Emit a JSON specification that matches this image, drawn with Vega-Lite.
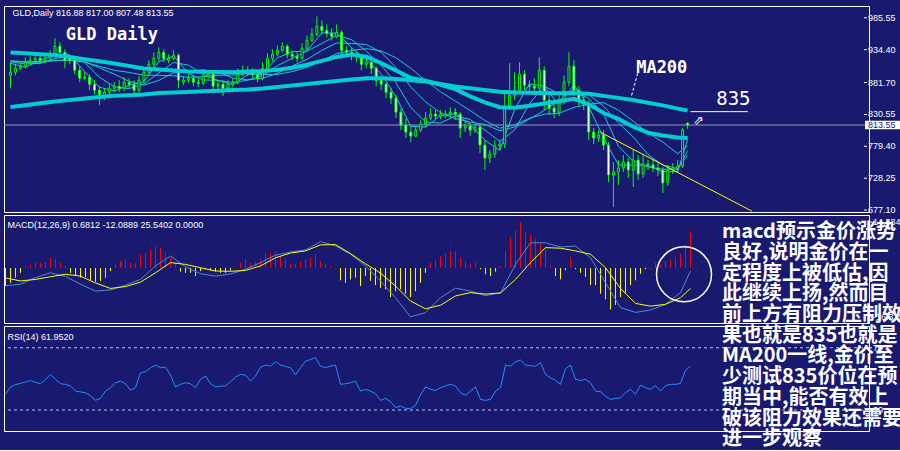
{
"$schema": "https://vega.github.io/schema/vega-lite/v6.json",
"background": "#191970",
"padding": {"left": 1, "top": 5, "right": 0, "bottom": 0},
"bounds": "flush",
"spacing": 3,
"config": {
  "view": {"stroke": "#ffffff", "strokeWidth": 1},
  "axis": {"labelFont": "Liberation Sans", "labelFontSize": 9, "labelColor": "#ffffff", "tickColor": "#ffffff", "tickSize": 3, "domain": false, "grid": false, "title": null}
},
"datasets": {
"bars": [
{"i":0,"o":893.4,"h":914.2,"l":872.6,"c":898.2,"m":-6.0,"r":40.1},
{"i":1,"o":898.2,"h":911.0,"l":893.4,"c":904.6,"m":-4.9,"r":44.8},
{"i":2,"o":904.6,"h":914.2,"l":901.4,"c":907.8,"m":-3.2,"r":46.3},
{"i":3,"o":907.8,"h":922.2,"l":904.6,"c":914.2,"m":-1.6,"r":47.1},
{"i":4,"o":914.2,"h":923.8,"l":909.4,"c":917.4,"m":0.3,"r":48.0},
{"i":5,"o":917.4,"h":927.0,"l":912.6,"c":920.6,"m":1.2,"r":49.0},
{"i":6,"o":920.6,"h":925.4,"l":911.0,"c":917.4,"m":1.8,"r":47.8},
{"i":7,"o":917.4,"h":928.6,"l":912.6,"c":920.6,"m":1.8,"r":46.9},
{"i":8,"o":920.6,"h":933.4,"l":917.4,"c":925.4,"m":2.1,"r":49.7},
{"i":9,"o":925.4,"h":952.6,"l":922.2,"c":939.8,"m":3.4,"r":52.9},
{"i":10,"o":939.8,"h":946.2,"l":920.6,"c":930.2,"m":2.9,"r":49.7},
{"i":11,"o":930.2,"h":935.0,"l":904.6,"c":917.4,"m":1.8,"r":46.9},
{"i":12,"o":920.6,"h":923.8,"l":911.0,"c":917.4,"m":0.7,"r":46.5},
{"i":13,"o":917.4,"h":922.2,"l":895.0,"c":901.4,"m":-1.6,"r":45.4},
{"i":14,"o":901.4,"h":907.8,"l":882.2,"c":888.6,"m":-2.7,"r":42.2},
{"i":15,"o":888.6,"h":898.2,"l":885.4,"c":890.2,"m":-3.2,"r":41.6},
{"i":16,"o":890.2,"h":895.0,"l":869.4,"c":879.0,"m":-3.0,"r":41.1},
{"i":17,"o":879.0,"h":885.4,"l":863.0,"c":869.4,"m":-4.1,"r":39.0},
{"i":18,"o":869.4,"h":875.8,"l":845.4,"c":858.2,"m":-4.6,"r":36.2},
{"i":19,"o":858.2,"h":872.6,"l":853.4,"c":866.2,"m":-4.3,"r":37.5},
{"i":20,"o":866.2,"h":879.0,"l":861.4,"c":872.6,"m":-3.2,"r":42.2},
{"i":21,"o":872.6,"h":882.2,"l":866.2,"c":875.8,"m":-1.0,"r":44.3},
{"i":22,"o":875.8,"h":885.4,"l":866.2,"c":872.6,"m":1.2,"r":47.5},
{"i":23,"o":872.6,"h":890.2,"l":867.8,"c":882.2,"m":2.3,"r":48.6},
{"i":24,"o":882.2,"h":888.6,"l":872.6,"c":879.0,"m":2.9,"r":46.9},
{"i":25,"o":879.0,"h":885.4,"l":861.4,"c":869.4,"m":1.8,"r":42.8},
{"i":26,"o":869.4,"h":891.8,"l":864.6,"c":885.4,"m":1.8,"r":44.3},
{"i":27,"o":885.4,"h":904.6,"l":880.6,"c":898.2,"m":4.6,"r":54.0},
{"i":28,"o":898.2,"h":917.4,"l":893.4,"c":911.0,"m":5.1,"r":54.6},
{"i":29,"o":911.0,"h":930.2,"l":906.2,"c":920.6,"m":6.2,"r":57.2},
{"i":30,"o":920.6,"h":938.2,"l":915.8,"c":930.2,"m":7.0,"r":58.9},
{"i":31,"o":930.2,"h":935.0,"l":914.2,"c":920.6,"m":6.8,"r":57.2},
{"i":32,"o":917.4,"h":927.0,"l":912.6,"c":920.6,"m":5.1,"r":57.6},
{"i":33,"o":920.6,"h":933.4,"l":917.4,"c":925.4,"m":3.4,"r":52.5},
{"i":34,"o":925.4,"h":928.6,"l":872.6,"c":885.4,"m":1.8,"r":44.8},
{"i":35,"o":882.2,"h":891.8,"l":877.4,"c":885.4,"m":-1.2,"r":46.5},
{"i":36,"o":885.4,"h":895.0,"l":880.6,"c":888.6,"m":-1.6,"r":47.5},
{"i":37,"o":888.6,"h":893.4,"l":875.8,"c":882.2,"m":-1.6,"r":46.9},
{"i":38,"o":882.2,"h":888.6,"l":874.2,"c":880.6,"m":-2.7,"r":44.3},
{"i":39,"o":880.6,"h":901.4,"l":877.4,"c":891.8,"m":-1.0,"r":49.7},
{"i":40,"o":891.8,"h":901.4,"l":887.0,"c":895.0,"m":-0.4,"r":51.8},
{"i":41,"o":895.0,"h":898.2,"l":866.2,"c":875.8,"m":-0.8,"r":46.9},
{"i":42,"o":875.8,"h":885.4,"l":869.4,"c":879.0,"m":-1.2,"r":44.8},
{"i":43,"o":879.0,"h":885.4,"l":859.8,"c":872.6,"m":-1.6,"r":45.4},
{"i":44,"o":872.6,"h":885.4,"l":867.8,"c":879.0,"m":-1.6,"r":45.4},
{"i":45,"o":879.0,"h":888.6,"l":874.2,"c":882.2,"m":-0.8,"r":48.2},
{"i":46,"o":882.2,"h":904.6,"l":879.0,"c":895.0,"m":0.1,"r":51.2},
{"i":47,"o":895.0,"h":909.4,"l":891.8,"c":901.4,"m":1.8,"r":52.9},
{"i":48,"o":901.4,"h":907.8,"l":891.8,"c":898.2,"m":2.9,"r":52.5},
{"i":49,"o":898.2,"h":904.6,"l":888.6,"c":895.0,"m":1.8,"r":48.6},
{"i":50,"o":895.0,"h":901.4,"l":882.2,"c":888.6,"m":2.1,"r":51.8},
{"i":51,"o":888.6,"h":914.2,"l":885.4,"c":904.6,"m":2.9,"r":57.6},
{"i":52,"o":904.6,"h":928.6,"l":901.4,"c":920.6,"m":4.8,"r":58.9},
{"i":53,"o":920.6,"h":935.0,"l":915.8,"c":927.0,"m":5.1,"r":58.2},
{"i":54,"o":927.0,"h":941.4,"l":923.8,"c":933.4,"m":5.4,"r":61.0},
{"i":55,"o":933.4,"h":946.2,"l":930.2,"c":939.8,"m":4.0,"r":58.9},
{"i":56,"o":939.8,"h":943.0,"l":920.6,"c":927.0,"m":3.2,"r":58.0},
{"i":57,"o":927.0,"h":933.4,"l":917.4,"c":923.8,"m":1.4,"r":57.2},
{"i":58,"o":923.8,"h":930.2,"l":914.2,"c":920.6,"m":1.2,"r":52.5},
{"i":59,"o":920.6,"h":944.6,"l":917.4,"c":936.6,"m":2.1,"r":57.2},
{"i":60,"o":936.6,"h":957.4,"l":933.4,"c":949.4,"m":2.9,"r":61.4},
{"i":61,"o":949.4,"h":968.6,"l":946.2,"c":959.0,"m":3.7,"r":62.5},
{"i":62,"o":959.0,"h":987.8,"l":955.8,"c":971.8,"m":4.6,"r":63.6},
{"i":63,"o":971.8,"h":981.4,"l":959.0,"c":965.4,"m":2.3,"r":58.2},
{"i":64,"o":965.4,"h":975.0,"l":954.2,"c":960.6,"m":1.4,"r":57.2},
{"i":65,"o":960.6,"h":968.6,"l":949.4,"c":955.8,"m":0.6,"r":58.2},
{"i":66,"o":955.8,"h":975.0,"l":952.6,"c":962.2,"m":-0.1,"r":58.9},
{"i":67,"o":962.2,"h":965.4,"l":923.8,"c":933.4,"m":-4.1,"r":46.5},
{"i":68,"o":933.4,"h":939.8,"l":922.2,"c":930.2,"m":-4.9,"r":46.9},
{"i":69,"o":930.2,"h":936.6,"l":917.4,"c":925.4,"m":-3.8,"r":47.5},
{"i":70,"o":925.4,"h":931.8,"l":914.2,"c":923.8,"m":-3.2,"r":48.6},
{"i":71,"o":923.8,"h":927.0,"l":901.4,"c":911.0,"m":-6.0,"r":42.2},
{"i":72,"o":911.0,"h":920.6,"l":904.6,"c":914.2,"m":-2.7,"r":43.2},
{"i":73,"o":914.2,"h":920.6,"l":895.0,"c":904.6,"m":-4.3,"r":42.2},
{"i":74,"o":904.6,"h":907.8,"l":875.8,"c":885.4,"m":-5.7,"r":40.5},
{"i":75,"o":885.4,"h":891.8,"l":869.4,"c":879.0,"m":-6.6,"r":36.2},
{"i":76,"o":879.0,"h":882.2,"l":856.6,"c":866.2,"m":-7.1,"r":37.5},
{"i":77,"o":866.2,"h":872.6,"l":847.0,"c":856.6,"m":-9.7,"r":35.3},
{"i":78,"o":856.6,"h":861.4,"l":824.6,"c":834.2,"m":-7.7,"r":31.5},
{"i":79,"o":834.2,"h":840.6,"l":805.4,"c":813.4,"m":-7.1,"r":32.6},
{"i":80,"o":813.4,"h":824.6,"l":792.6,"c":802.2,"m":-8.6,"r":31.1},
{"i":81,"o":802.2,"h":811.8,"l":786.2,"c":795.8,"m":-9.7,"r":30.9},
{"i":82,"o":795.8,"h":811.8,"l":794.2,"c":805.4,"m":-7.7,"r":33.0},
{"i":83,"o":805.4,"h":821.4,"l":802.2,"c":815.0,"m":-4.9,"r":39.7},
{"i":84,"o":815.0,"h":834.2,"l":810.2,"c":824.6,"m":-1.6,"r":44.8},
{"i":85,"o":824.6,"h":840.6,"l":821.4,"c":831.0,"m":1.8,"r":43.3},
{"i":86,"o":831.0,"h":837.4,"l":821.4,"c":827.8,"m":2.6,"r":42.6},
{"i":87,"o":827.8,"h":837.4,"l":823.0,"c":831.0,"m":4.0,"r":44.3},
{"i":88,"o":827.8,"h":837.4,"l":824.6,"c":831.0,"m":4.8,"r":45.6},
{"i":89,"o":831.0,"h":842.2,"l":826.2,"c":834.2,"m":5.7,"r":46.5},
{"i":90,"o":834.2,"h":840.6,"l":821.4,"c":831.0,"m":5.4,"r":45.4},
{"i":91,"o":831.0,"h":834.2,"l":792.6,"c":808.6,"m":3.4,"r":41.1},
{"i":92,"o":808.6,"h":821.4,"l":802.2,"c":811.8,"m":2.3,"r":39.4},
{"i":93,"o":811.8,"h":818.2,"l":795.8,"c":805.4,"m":1.4,"r":42.2},
{"i":94,"o":805.4,"h":815.0,"l":800.6,"c":810.2,"m":1.7,"r":44.8},
{"i":95,"o":810.2,"h":815.0,"l":768.6,"c":781.4,"m":-0.4,"r":36.8},
{"i":96,"o":781.4,"h":789.4,"l":741.4,"c":760.6,"m":-2.1,"r":36.2},
{"i":97,"o":760.6,"h":773.4,"l":752.6,"c":767.0,"m":-2.7,"r":36.8},
{"i":98,"o":767.0,"h":789.4,"l":760.6,"c":779.8,"m":-1.2,"r":42.2},
{"i":99,"o":779.8,"h":789.4,"l":773.4,"c":783.0,"m":0.7,"r":44.3},
{"i":100,"o":783.0,"h":869.4,"l":776.6,"c":840.6,"m":5.7,"r":58.9},
{"i":101,"o":840.6,"h":912.6,"l":837.4,"c":861.4,"m":10.3,"r":58.2},
{"i":102,"o":861.4,"h":898.2,"l":853.4,"c":869.4,"m":12.6,"r":61.0},
{"i":103,"o":869.4,"h":914.2,"l":866.2,"c":895.0,"m":15.2,"r":62.1},
{"i":104,"o":895.0,"h":901.4,"l":869.4,"c":877.4,"m":12.1,"r":58.9},
{"i":105,"o":877.4,"h":885.4,"l":866.2,"c":875.8,"m":11.2,"r":58.4},
{"i":106,"o":875.8,"h":888.6,"l":861.4,"c":872.6,"m":9.9,"r":58.2},
{"i":107,"o":872.6,"h":922.2,"l":866.2,"c":901.4,"m":8.4,"r":60.4},
{"i":108,"o":901.4,"h":907.8,"l":837.4,"c":853.4,"m":6.2,"r":52.9},
{"i":109,"o":853.4,"h":861.4,"l":829.4,"c":840.6,"m":1.0,"r":50.7},
{"i":110,"o":840.6,"h":847.0,"l":824.6,"c":834.2,"m":-2.7,"r":49.0},
{"i":111,"o":834.2,"h":866.2,"l":827.8,"c":853.4,"m":-3.8,"r":46.5},
{"i":112,"o":853.4,"h":893.4,"l":847.0,"c":882.2,"m":-0.8,"r":56.5},
{"i":113,"o":882.2,"h":930.2,"l":875.8,"c":907.8,"m":3.7,"r":58.9},
{"i":114,"o":907.8,"h":917.4,"l":859.8,"c":869.4,"m":-0.4,"r":49.7},
{"i":115,"o":869.4,"h":875.8,"l":843.8,"c":853.4,"m":-1.6,"r":49.0},
{"i":116,"o":853.4,"h":859.8,"l":837.4,"c":847.0,"m":-3.0,"r":49.7},
{"i":117,"o":847.0,"h":853.4,"l":789.4,"c":802.2,"m":-5.7,"r":47.5},
{"i":118,"o":802.2,"h":808.6,"l":783.0,"c":792.6,"m":-5.7,"r":42.2},
{"i":119,"o":792.6,"h":805.4,"l":786.2,"c":797.4,"m":-8.6,"r":41.8},
{"i":120,"o":797.4,"h":805.4,"l":773.4,"c":781.4,"m":-10.4,"r":39.0},
{"i":121,"o":781.4,"h":786.2,"l":722.2,"c":733.4,"m":-13.8,"r":36.8},
{"i":122,"o":733.4,"h":754.2,"l":682.2,"c":738.2,"m":-12.3,"r":37.5},
{"i":123,"o":738.2,"h":757.4,"l":717.4,"c":744.6,"m":-9.7,"r":37.9},
{"i":124,"o":744.6,"h":765.4,"l":738.2,"c":754.2,"m":-8.2,"r":41.1},
{"i":125,"o":754.2,"h":760.6,"l":728.6,"c":741.4,"m":-5.7,"r":43.3},
{"i":126,"o":741.4,"h":773.4,"l":714.2,"c":757.4,"m":-4.1,"r":40.1},
{"i":127,"o":757.4,"h":765.4,"l":725.4,"c":735.0,"m":-1.9,"r":46.0},
{"i":128,"o":735.0,"h":765.4,"l":728.6,"c":751.0,"m":-0.4,"r":44.3},
{"i":129,"o":751.0,"h":757.4,"l":741.4,"c":749.4,"m":-0.1,"r":43.3},
{"i":130,"o":749.4,"h":757.4,"l":738.2,"c":744.6,"m":1.7,"r":45.6},
{"i":131,"o":744.6,"h":752.6,"l":731.8,"c":741.4,"m":1.2,"r":42.2},
{"i":132,"o":741.4,"h":746.2,"l":704.6,"c":720.6,"m":2.1,"r":45.6},
{"i":133,"o":720.6,"h":749.4,"l":715.8,"c":741.4,"m":2.9,"r":46.5},
{"i":134,"o":741.4,"h":752.6,"l":735.0,"c":744.6,"m":3.7,"r":46.5},
{"i":135,"o":744.6,"h":757.4,"l":738.2,"c":747.8,"m":4.8,"r":47.1},
{"i":136,"o":747.8,"h":808.6,"l":744.6,"c":805.4,"m":7.9,"r":55.5},
{"i":137,"o":816.88,"h":817.0,"l":807.48,"c":813.55,"m":12.3,"r":58.2}
],
"ma": [
{"i":0,"m200":842.5,"t2":930.0,"r1":912.6,"r2":915.0,"r3":916.0,"r4":916.6,"mb":-5.9,"my":-3.3},
{"i":3,"m200":845.4,"t2":928.6,"r1":906.2,"r2":911.8,"r3":914.2,"r4":915.3,"mb":-5.4,"my":-4.3},
{"i":6,"m200":848.3,"t2":927.0,"r1":917.4,"r2":912.2,"r3":914.4,"r4":915.5,"mb":-3.2,"my":-3.8},
{"i":9,"m200":851.2,"t2":925.7,"r1":925.8,"r2":920.4,"r3":916.8,"r4":917.1,"mb":-1.6,"my":-2.9},
{"i":12,"m200":853.7,"t2":922.7,"r1":926.2,"r2":923.6,"r3":917.7,"r4":917.6,"mb":-2.8,"my":-2.1},
{"i":15,"m200":856.1,"t2":919.3,"r1":899.4,"r2":913.8,"r3":914.8,"r4":914.4,"mb":-5.4,"my":-2.7},
{"i":18,"m200":858.5,"t2":916.0,"r1":874.2,"r2":890.2,"r3":905.4,"r4":907.8,"mb":-7.7,"my":-5.0},
{"i":21,"m200":860.4,"t2":912.1,"r1":868.2,"r2":875.0,"r3":895.2,"r4":901.4,"mb":-7.3,"my":-6.8},
{"i":24,"m200":861.4,"t2":908.4,"r1":877.4,"r2":872.0,"r3":883.6,"r4":898.0,"mb":-5.7,"my":-6.2},
{"i":27,"m200":862.5,"t2":904.4,"r1":883.0,"r2":879.4,"r3":877.6,"r4":893.4,"mb":-3.8,"my":-4.7},
{"i":30,"m200":864.8,"t2":902.7,"r1":915.0,"r2":897.0,"r3":885.1,"r4":893.4,"mb":0.7,"my":-1.6},
{"i":33,"m200":865.7,"t2":901.1,"r1":924.2,"r2":914.0,"r3":897.4,"r4":892.4,"mb":4.0,"my":1.8},
{"i":36,"m200":866.7,"t2":899.6,"r1":896.2,"r2":909.6,"r3":900.1,"r4":890.2,"mb":0.4,"my":1.2},
{"i":39,"m200":867.6,"t2":899.0,"r1":885.8,"r2":895.0,"r3":901.9,"r4":891.0,"mb":-1.9,"my":0.1},
{"i":42,"m200":868.6,"t2":898.5,"r1":885.4,"r2":884.8,"r3":898.7,"r4":893.4,"mb":-2.7,"my":-1.0},
{"i":45,"m200":869.6,"t2":898.4,"r1":878.2,"r2":882.0,"r3":888.8,"r4":893.6,"mb":-2.0,"my":-1.1},
{"i":48,"m200":870.5,"t2":899.3,"r1":894.2,"r2":885.4,"r3":886.2,"r4":896.3,"mb":-0.4,"my":-0.8},
{"i":51,"m200":872.1,"t2":900.4,"r1":896.6,"r2":893.0,"r3":888.4,"r4":894.4,"mb":1.8,"my":0.7},
{"i":54,"m200":874.5,"t2":902.4,"r1":921.4,"r2":908.6,"r3":896.6,"r4":894.8,"mb":4.3,"my":3.4},
{"i":57,"m200":876.9,"t2":905.4,"r1":931.0,"r2":920.6,"r3":908.3,"r4":899.2,"mb":5.3,"my":5.0},
{"i":60,"m200":879.3,"t2":910.2,"r1":932.6,"r2":932.2,"r3":919.0,"r4":906.2,"mb":6.0,"my":5.7},
{"i":63,"m200":881.7,"t2":916.4,"r1":961.4,"r2":944.2,"r3":933.4,"r4":916.8,"mb":8.8,"my":7.7},
{"i":66,"m200":884.1,"t2":922.8,"r1":961.0,"r2":957.6,"r3":945.2,"r4":928.1,"mb":7.4,"my":7.8},
{"i":69,"m200":886.5,"t2":926.8,"r1":937.8,"r2":950.6,"r3":944.4,"r4":933.1,"mb":4.6,"my":4.8},
{"i":72,"m200":888.6,"t2":923.0,"r1":918.6,"r2":932.0,"r3":942.8,"r4":936.1,"mb":0.7,"my":1.4},
{"i":75,"m200":888.6,"t2":912.9,"r1":895.8,"r2":909.2,"r3":930.2,"r4":932.4,"mb":-4.3,"my":-1.7},
{"i":78,"m200":887.2,"t2":900.9,"r1":859.0,"r2":881.4,"r3":905.9,"r4":921.4,"mb":-9.9,"my":-6.0},
{"i":81,"m200":885.4,"t2":889.2,"r1":811.4,"r2":841.6,"r3":874.4,"r4":904.6,"mb":-16.3,"my":-11.0},
{"i":84,"m200":883.2,"t2":884.6,"r1":810.2,"r2":818.4,"r3":850.5,"r4":884.8,"mb":-14.9,"my":-13.6},
{"i":87,"m200":879.3,"t2":878.2,"r1":828.6,"r2":816.6,"r3":833.4,"r4":867.0,"mb":-9.9,"my":-12.4},
{"i":90,"m200":875.5,"t2":871.0,"r1":831.8,"r2":828.2,"r3":823.8,"r4":852.0,"mb":-6.7,"my":-9.3},
{"i":93,"m200":872.6,"t2":859.5,"r1":814.2,"r2":822.6,"r3":818.2,"r4":836.8,"mb":-7.7,"my":-8.2},
{"i":96,"m200":869.7,"t2":849.9,"r1":789.4,"r2":805.4,"r3":814.5,"r4":820.8,"mb":-9.2,"my":-8.7},
{"i":99,"m200":866.8,"t2":842.2,"r1":772.6,"r2":787.4,"r3":804.4,"r4":808.4,"mb":-8.3,"my":-8.3},
{"i":102,"m200":865.9,"t2":841.4,"r1":838.6,"r2":805.4,"r3":810.4,"r4":813.9,"mb":1.2,"my":-3.8},
{"i":105,"m200":865.4,"t2":844.4,"r1":879.4,"r2":847.8,"r3":822.8,"r4":824.4,"mb":8.4,"my":1.8},
{"i":108,"m200":864.9,"t2":848.1,"r1":875.8,"r2":875.8,"r3":837.1,"r4":831.0,"mb":8.4,"my":6.8},
{"i":111,"m200":864.6,"t2":851.6,"r1":845.4,"r2":863.6,"r3":852.8,"r4":832.4,"mb":7.0,"my":6.6},
{"i":114,"m200":864.6,"t2":855.5,"r1":878.2,"r2":867.8,"r3":871.0,"r4":841.9,"mb":7.3,"my":5.7},
{"i":117,"m200":863.6,"t2":846.8,"r1":843.0,"r2":856.2,"r3":862.2,"r4":846.7,"mb":3.4,"my":4.6},
{"i":120,"m200":860.3,"t2":832.8,"r1":793.4,"r2":831.4,"r3":843.9,"r4":849.6,"mb":-4.9,"my":0.1},
{"i":123,"m200":857.1,"t2":823.3,"r1":749.4,"r2":779.6,"r3":816.9,"r4":837.4,"mb":-13.2,"my":-6.8},
{"i":126,"m200":853.6,"t2":810.7,"r1":749.4,"r2":755.9,"r3":794.4,"r4":819.8,"mb":-14.8,"my":-11.8},
{"i":129,"m200":849.2,"t2":801.2,"r1":748.2,"r2":746.4,"r3":766.0,"r4":800.9,"mb":-14.0,"my":-12.7},
{"i":132,"m200":845.1,"t2":796.6,"r1":739.0,"r2":742.6,"r3":749.2,"r4":786.2,"mb":-12.1,"my":-12.1},
{"i":135,"m200":839.8,"t2":793.6,"r1":738.6,"r2":742.6,"r3":743.6,"r4":767.6,"mb":-8.2,"my":-9.9},
{"i":137,"m200":836.8,"t2":792.6,"r1":790.0,"r2":772.0,"r3":765.0,"r4":780.0,"mb":-1.0,"my":-6.8}
]
},
"vconcat": [
{
"width": 865, "height": 206,
"layer": [
{"data": {"values": [{"p": 813.55}]}, "mark": {"type": "rule", "color": "#9a9ab8", "strokeWidth": 1},
 "encoding": {"y": {"field": "p", "type": "quantitative", "scale": {"domain": [674, 1004.5], "nice": false, "zero": false}, "axis": null}}},
{"data": {"name": "ma"}, "transform": [{"fold": ["r1", "r2", "r3", "r4"], "as": ["k", "v"]}],
 "mark": {"type": "line", "color": "#19cbd6", "strokeWidth": 1},
 "encoding": {"x": {"field": "i", "type": "quantitative", "scale": {"domain": [-0.3, 172.7], "nice": false, "zero": false}, "axis": null},
   "y": {"field": "v", "type": "quantitative", "scale": {"domain": [674, 1004.5], "nice": false, "zero": false}, "axis": null},
   "detail": {"field": "k", "type": "nominal"}}},
{"data": {"name": "bars"}, "mark": {"type": "rule", "color": "#00ff00", "strokeWidth": 1},
 "encoding": {"x": {"field": "i", "type": "quantitative", "scale": {"domain": [-0.3, 172.7], "nice": false, "zero": false}, "axis": null},
   "y": {"field": "l", "type": "quantitative", "scale": {"domain": [674, 1004.5], "nice": false, "zero": false}, "axis": null},
   "y2": {"field": "h"}}},
{"data": {"name": "bars"}, "mark": {"type": "bar", "width": 2, "stroke": "#00ff00", "strokeWidth": 1},
 "encoding": {"x": {"field": "i", "type": "quantitative", "scale": {"domain": [-0.3, 172.7], "nice": false, "zero": false}, "axis": null},
   "y": {"field": "o", "type": "quantitative", "scale": {"domain": [674, 1004.5], "nice": false, "zero": false}, "axis": null},
   "y2": {"field": "c"},
   "fill": {"condition": {"test": "datum.c < datum.o", "value": "#ffffff"}, "value": "#191970"}}},
{"data": {"name": "ma"}, "transform": [{"fold": ["t2", "m200"], "as": ["k", "v"]}],
 "mark": {"type": "line", "color": "#00ced1", "strokeWidth": 4},
 "encoding": {"x": {"field": "i", "type": "quantitative", "scale": {"domain": [-0.3, 172.7], "nice": false, "zero": false}, "axis": null},
   "y": {"field": "v", "type": "quantitative", "scale": {"domain": [674, 1004.5], "nice": false, "zero": false}, "axis": null},
   "detail": {"field": "k", "type": "nominal"}}},
{"data": {"values": [{"i": 119.4, "p": 801.8, "i2": 150, "p2": 675.5}]}, "mark": {"type": "rule", "color": "#ffff00", "strokeWidth": 1},
 "encoding": {"x": {"field": "i", "type": "quantitative", "scale": {"domain": [-0.3, 172.7], "nice": false, "zero": false}, "axis": null},
   "y": {"field": "p", "type": "quantitative", "scale": {"domain": [674, 1004.5], "nice": false, "zero": false}, "axis": null},
   "x2": {"field": "i2"}, "y2": {"field": "p2"}}},
{"data": {"values": [{"i": 137.6, "i2": 149.2, "p": 835}]}, "mark": {"type": "rule", "color": "#ffffff", "strokeWidth": 1},
 "encoding": {"x": {"field": "i", "type": "quantitative", "scale": {"domain": [-0.3, 172.7], "nice": false, "zero": false}, "axis": null},
   "x2": {"field": "i2"},
   "y": {"field": "p", "type": "quantitative", "scale": {"domain": [674, 1004.5], "nice": false, "zero": false}, "axis": null}}},
{"data": {"values": [{"i": 126.9, "p": 896.6, "i2": 125.6, "p2": 858.7}]}, "mark": {"type": "rule", "color": "#ffffff", "strokeWidth": 1, "strokeDash": [3, 2]},
 "encoding": {"x": {"field": "i", "type": "quantitative", "scale": {"domain": [-0.3, 172.7], "nice": false, "zero": false}, "axis": null},
   "y": {"field": "p", "type": "quantitative", "scale": {"domain": [674, 1004.5], "nice": false, "zero": false}, "axis": null},
   "x2": {"field": "i2"}, "y2": {"field": "p2"}}},
{"data": {"values": [{"i": 0.4, "p": 992.6, "t": "GLD,Daily  816.88 817.00 807.48 813.55"}]},
 "mark": {"type": "text", "font": "Liberation Sans", "fontSize": 9, "color": "#ffffff", "align": "left", "baseline": "middle"},
 "encoding": {"x": {"field": "i", "type": "quantitative", "scale": {"domain": [-0.3, 172.7], "nice": false, "zero": false}, "axis": null},
   "y": {"field": "p", "type": "quantitative", "scale": {"domain": [674, 1004.5], "nice": false, "zero": false}, "axis": null},
   "text": {"field": "t"}}},
{"data": {"values": [{"i": 11.2, "p": 957.4, "t": "GLD Daily"}, {"i": 126.6, "p": 904.6, "t": "MA200"}]},
 "mark": {"type": "text", "font": "DejaVu Sans Mono", "fontWeight": "bold", "fontSize": 17, "color": "#ffffff", "align": "left", "baseline": "middle"},
 "encoding": {"x": {"field": "i", "type": "quantitative", "scale": {"domain": [-0.3, 172.7], "nice": false, "zero": false}, "axis": null},
   "y": {"field": "p", "type": "quantitative", "scale": {"domain": [674, 1004.5], "nice": false, "zero": false}, "axis": null},
   "text": {"field": "t"}}},
{"data": {"values": [{"i": 142.8, "p": 855, "t": "835"}]},
 "mark": {"type": "text", "font": "DejaVu Sans Mono", "fontSize": 19, "color": "#ffffff", "align": "left", "baseline": "middle"},
 "encoding": {"x": {"field": "i", "type": "quantitative", "scale": {"domain": [-0.3, 172.7], "nice": false, "zero": false}, "axis": null},
   "y": {"field": "p", "type": "quantitative", "scale": {"domain": [674, 1004.5], "nice": false, "zero": false}, "axis": null},
   "text": {"field": "t"}}},
{"data": {"values": [{"i": 139.2, "p": 819.8, "t": "⇗"}]},
 "mark": {"type": "text", "font": "DejaVu Sans", "fontSize": 13, "color": "#ffffff", "align": "center", "baseline": "middle"},
 "encoding": {"x": {"field": "i", "type": "quantitative", "scale": {"domain": [-0.3, 172.7], "nice": false, "zero": false}, "axis": null},
   "y": {"field": "p", "type": "quantitative", "scale": {"domain": [674, 1004.5], "nice": false, "zero": false}, "axis": null},
   "text": {"field": "t"}}},
{"data": {"values": [{"i": 172.7, "i2": 173.3, "p": 985.55}, {"i": 172.7, "i2": 173.3, "p": 934.4}, {"i": 172.7, "i2": 173.3, "p": 881.7}, {"i": 172.7, "i2": 173.3, "p": 830.55}, {"i": 172.7, "i2": 173.3, "p": 779.4}, {"i": 172.7, "i2": 173.3, "p": 728.25}, {"i": 172.7, "i2": 173.3, "p": 677.1}]},
 "mark": {"type": "rule", "color": "#ffffff", "strokeWidth": 1},
 "encoding": {"x": {"field": "i", "type": "quantitative", "scale": {"domain": [-0.3, 172.7], "nice": false, "zero": false}, "axis": null},
   "x2": {"field": "i2"},
   "y": {"field": "p", "type": "quantitative", "scale": {"domain": [674, 1004.5], "nice": false, "zero": false}, "axis": null}}},
{"data": {"values": [{"i": 173.5, "p": 985.55, "t": "985.55"}, {"i": 173.5, "p": 934.4, "t": "934.40"}, {"i": 173.5, "p": 881.7, "t": "881.70"}, {"i": 173.5, "p": 830.55, "t": "830.55"}, {"i": 173.5, "p": 779.4, "t": "779.40"}, {"i": 173.5, "p": 728.25, "t": "728.25"}, {"i": 173.5, "p": 677.1, "t": "677.10"}]},
 "mark": {"type": "text", "font": "Liberation Sans", "fontSize": 9, "color": "#ffffff", "align": "left", "baseline": "middle"},
 "encoding": {"x": {"field": "i", "type": "quantitative", "scale": {"domain": [-0.3, 172.7], "nice": false, "zero": false}, "axis": null},
   "y": {"field": "p", "type": "quantitative", "scale": {"domain": [674, 1004.5], "nice": false, "zero": false}, "axis": null},
   "text": {"field": "t"}}},
{"data": {"values": [{"i": 172.9, "i2": 180, "p": 820.2, "p2": 806.8}]}, "mark": {"type": "rect", "color": "#ffffff"},
 "encoding": {"x": {"field": "i", "type": "quantitative", "scale": {"domain": [-0.3, 172.7], "nice": false, "zero": false}, "axis": null},
   "x2": {"field": "i2"},
   "y": {"field": "p", "type": "quantitative", "scale": {"domain": [674, 1004.5], "nice": false, "zero": false}, "axis": null},
   "y2": {"field": "p2"}}},
{"data": {"values": [{"i": 176.3, "p": 813.4, "t": "813.55"}]},
 "mark": {"type": "text", "font": "Liberation Sans", "fontSize": 9, "color": "#191970", "align": "center", "baseline": "middle"},
 "encoding": {"x": {"field": "i", "type": "quantitative", "scale": {"domain": [-0.3, 172.7], "nice": false, "zero": false}, "axis": null},
   "y": {"field": "p", "type": "quantitative", "scale": {"domain": [674, 1004.5], "nice": false, "zero": false}, "axis": null},
   "text": {"field": "t"}}}
]
},
{
"width": 865, "height": 108,
"layer": [
{"data": {"name": "bars"}, "mark": {"type": "rule", "strokeWidth": 1},
 "encoding": {"x": {"field": "i", "type": "quantitative", "scale": {"domain": [-0.3, 172.7], "nice": false, "zero": false}, "axis": null},
   "y": {"field": "m", "type": "quantitative", "scale": {"domain": [-18.33, 17.67], "nice": false, "zero": false}, "axis": null},
   "y2": {"datum": 0},
   "color": {"condition": {"test": "datum.m > 0", "value": "#ff0000"}, "value": "#ffff00"}}},
{"data": {"name": "ma"}, "mark": {"type": "line", "color": "#4f8ccc", "strokeWidth": 1},
 "encoding": {"x": {"field": "i", "type": "quantitative", "scale": {"domain": [-0.3, 172.7], "nice": false, "zero": false}, "axis": null},
   "y": {"field": "mb", "type": "quantitative", "scale": {"domain": [-18.33, 17.67], "nice": false, "zero": false}, "axis": null}}},
{"data": {"name": "ma"}, "mark": {"type": "line", "color": "#ffff00", "strokeWidth": 1},
 "encoding": {"x": {"field": "i", "type": "quantitative", "scale": {"domain": [-0.3, 172.7], "nice": false, "zero": false}, "axis": null},
   "y": {"field": "my", "type": "quantitative", "scale": {"domain": [-18.33, 17.67], "nice": false, "zero": false}, "axis": null}}},
{"data": {"values": [{"i": 135.7, "v": -2.1}]}, "mark": {"type": "point", "shape": "circle", "size": 3025, "filled": false, "color": "#ffffff", "strokeWidth": 1.5, "opacity": 1},
 "encoding": {"x": {"field": "i", "type": "quantitative", "scale": {"domain": [-0.3, 172.7], "nice": false, "zero": false}, "axis": null},
   "y": {"field": "v", "type": "quantitative", "scale": {"domain": [-18.33, 17.67], "nice": false, "zero": false}, "axis": null}}},
{"data": {"values": [{"i": 0.4, "v": 14.3, "t": "MACD(12,26,9) 0.6812 -12.0889 25.5402 0.0000"}]},
 "mark": {"type": "text", "font": "Liberation Sans", "fontSize": 9, "color": "#ffffff", "align": "left", "baseline": "middle"},
 "encoding": {"x": {"field": "i", "type": "quantitative", "scale": {"domain": [-0.3, 172.7], "nice": false, "zero": false}, "axis": null},
   "y": {"field": "v", "type": "quantitative", "scale": {"domain": [-18.33, 17.67], "nice": false, "zero": false}, "axis": null},
   "text": {"field": "t"}}},
{"data": {"values": [{"i": 172.7, "i2": 173.3, "v": 15.33}, {"i": 172.7, "i2": 173.3, "v": -16.33}]},
 "mark": {"type": "rule", "color": "#ffffff", "strokeWidth": 1},
 "encoding": {"x": {"field": "i", "type": "quantitative", "scale": {"domain": [-0.3, 172.7], "nice": false, "zero": false}, "axis": null},
   "x2": {"field": "i2"},
   "y": {"field": "v", "type": "quantitative", "scale": {"domain": [-18.33, 17.67], "nice": false, "zero": false}, "axis": null}}},
{"data": {"values": [{"i": 173.5, "v": 15.33, "t": "14.5843"}, {"i": 173.5, "v": -16.33, "t": "-16.3755"}]},
 "mark": {"type": "text", "font": "Liberation Sans", "fontSize": 9, "color": "#ffffff", "align": "left", "baseline": "middle"},
 "encoding": {"x": {"field": "i", "type": "quantitative", "scale": {"domain": [-0.3, 172.7], "nice": false, "zero": false}, "axis": null},
   "y": {"field": "v", "type": "quantitative", "scale": {"domain": [-18.33, 17.67], "nice": false, "zero": false}, "axis": null},
   "text": {"field": "t"}}}
]
},
{
"width": 865, "height": 105,
"layer": [
{"data": {"values": [{"v": 70}, {"v": 30}]}, "mark": {"type": "rule", "color": "#c4c4dc", "strokeWidth": 1, "strokeDash": [3, 3]},
 "encoding": {"y": {"field": "v", "type": "quantitative", "scale": {"domain": [16.5, 84], "nice": false, "zero": false}, "axis": null}}},
{"data": {"name": "bars"}, "mark": {"type": "line", "color": "#1e90ff", "strokeWidth": 1},
 "encoding": {"x": {"field": "i", "type": "quantitative", "scale": {"domain": [-0.3, 172.7], "nice": false, "zero": false},
     "axis": {"orient": "bottom", "values": [0, 11, 22, 33, 44, 55, 66, 77, 88, 99, 110, 121, 132],
       "labelExpr": "['1 Apr 2008','20 Apr 2008','8 May 2008','27 May 2008','15 Jun 2008','3 Jul 2008','22 Jul 2008','10 Aug 2008','28 Aug 2008','16 Sep 2008','5 Oct 2008','23 Oct 2008','14 Nov 2008'][round(datum.value/11)]",
       "labelAlign": "left", "labelPadding": 1, "tickSize": 4, "labelBound": false, "labelOverlap": false, "labelFlush": false}},
   "y": {"field": "r", "type": "quantitative", "scale": {"domain": [16.5, 84], "nice": false, "zero": false}, "axis": null}}},
{"data": {"values": [{"i": 0.4, "v": 76.9, "t": "RSI(14) 61.9520"}]},
 "mark": {"type": "text", "font": "Liberation Sans", "fontSize": 9, "color": "#ffffff", "align": "left", "baseline": "middle"},
 "encoding": {"x": {"field": "i", "type": "quantitative", "scale": {"domain": [-0.3, 172.7], "nice": false, "zero": false}, "axis": null},
   "y": {"field": "v", "type": "quantitative", "scale": {"domain": [16.5, 84], "nice": false, "zero": false}, "axis": null},
   "text": {"field": "t"}}},
{"data": {"values": [{"i": 172.7, "i2": 173.3, "v": 70}, {"i": 172.7, "i2": 173.3, "v": 30}]},
 "mark": {"type": "rule", "color": "#ffffff", "strokeWidth": 1},
 "encoding": {"x": {"field": "i", "type": "quantitative", "scale": {"domain": [-0.3, 172.7], "nice": false, "zero": false}, "axis": null},
   "x2": {"field": "i2"},
   "y": {"field": "v", "type": "quantitative", "scale": {"domain": [16.5, 84], "nice": false, "zero": false}, "axis": null}}},
{"data": {"values": [{"i": 173.5, "v": 70, "t": "70"}, {"i": 173.5, "v": 30, "t": "30"}]},
 "mark": {"type": "text", "font": "Liberation Sans", "fontSize": 9, "color": "#ffffff", "align": "left", "baseline": "middle"},
 "encoding": {"x": {"field": "i", "type": "quantitative", "scale": {"domain": [-0.3, 172.7], "nice": false, "zero": false}, "axis": null},
   "y": {"field": "v", "type": "quantitative", "scale": {"domain": [16.5, 84], "nice": false, "zero": false}, "axis": null},
   "text": {"field": "t"}}},
{"data": {"values": [{"i": 143.3, "v": 150.7, "t": "macd预示金价涨势\n良好,说明金价在一\n定程度上被低估,因\n此继续上扬,然而目\n前上方有阻力压制效\n果也就是835也就是\nMA200一线,金价至\n少测试835价位在预\n期当中,能否有效上\n破该阻力效果还需要\n进一步观察"}]},
 "mark": {"type": "text", "font": "Noto Sans CJK SC", "fontWeight": "bold", "fontSize": 20, "lineHeight": 20.7, "lineBreak": "\n", "color": "#ffffff", "align": "left", "baseline": "top"},
 "encoding": {"x": {"field": "i", "type": "quantitative", "scale": {"domain": [-0.3, 172.7], "nice": false, "zero": false}, "axis": null},
   "y": {"field": "v", "type": "quantitative", "scale": {"domain": [16.5, 84], "nice": false, "zero": false}, "axis": null},
   "text": {"field": "t"}}}
]
}
]
}
